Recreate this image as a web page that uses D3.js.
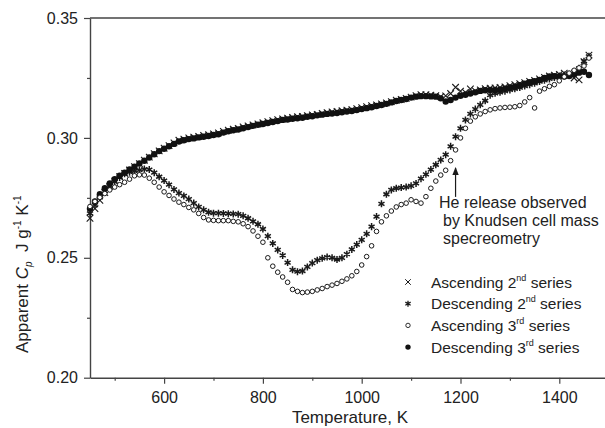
<!DOCTYPE html>
<html>
<head>
<meta charset="utf-8">
<script src="https://cdn.jsdelivr.net/npm/d3@7"></script>
<style>
  body { margin: 0; background: #fff; }
  svg { display: block; font-family: "Liberation Sans", Arial, sans-serif; }
</style>
</head>
<body>
<svg width="605" height="428"></svg>
<script>
"use strict";

// temperature grid, K
var temperature = [
  450, 460, 470, 480, 490, 500, 510, 520, 530, 540, 550, 560, 570, 580, 590,
  600, 610, 620, 630, 640, 650, 660, 670, 680, 690, 700, 710, 720, 730, 740,
  750, 760, 770, 780, 790, 800, 810, 820, 830, 840, 850, 860, 870, 880, 890,
  900, 910, 920, 930, 940, 950, 960, 970, 980, 990, 1000, 1010, 1020, 1030, 1040,
  1050, 1060, 1070, 1080, 1090, 1100, 1110, 1120, 1130, 1140, 1150, 1160, 1170, 1180, 1190,
  1200, 1210, 1220, 1230, 1240, 1250, 1260, 1270, 1280, 1290, 1300, 1310, 1320, 1330, 1340,
  1350, 1360, 1370, 1380, 1390, 1400, 1410, 1420, 1430, 1440, 1450, 1460
];

var ascending2 = [
  0.2665, 0.2705, 0.2740, 0.2772, 0.2798, 0.2820, 0.2838, 0.2852, 0.2866, 0.2880, 0.2893, 0.2907, 0.2920, 0.2934, 0.2946,
  0.2957, 0.2968, 0.2979, 0.2990, 0.2995, 0.3000, 0.3003, 0.3006, 0.3010, 0.3013, 0.3017, 0.3021, 0.3027, 0.3032, 0.3036,
  0.3040, 0.3046, 0.3050, 0.3054, 0.3058, 0.3063, 0.3068, 0.3072, 0.3076, 0.3079, 0.3082, 0.3085, 0.3088, 0.3090, 0.3093,
  0.3096, 0.3098, 0.3102, 0.3105, 0.3108, 0.3110, 0.3113, 0.3116, 0.3118, 0.3122, 0.3126, 0.3130, 0.3134, 0.3138, 0.3142,
  0.3146, 0.3151, 0.3157, 0.3160, 0.3165, 0.3170, 0.3176, 0.3180, 0.3180, 0.3178, 0.3176, 0.3172, 0.3175, 0.3185, 0.3211,
  0.3195, 0.3190, 0.3204, 0.3196, 0.3200, 0.3205, 0.3207, 0.3208, 0.3210, 0.3213, 0.3218, 0.3222, 0.3226, 0.3230, 0.3236,
  0.3240, 0.3246, 0.3252, 0.3258, 0.3262, 0.3265, 0.3270, 0.3262, 0.3250, 0.3242, 0.3318, 0.3345
];

var descending2 = [
  0.2685, 0.2720, 0.2752, 0.2778, 0.2800, 0.2818, 0.2835, 0.2850, 0.2857, 0.2862, 0.2866, 0.2870, 0.2868, 0.2855, 0.2838,
  0.2822, 0.2805, 0.2785, 0.2770, 0.2758, 0.2745, 0.2728, 0.2712, 0.2700, 0.2690, 0.2686, 0.2686, 0.2685, 0.2684, 0.2683,
  0.2682, 0.2675, 0.2665, 0.2652, 0.2640, 0.2620, 0.2590, 0.2560, 0.2533, 0.2510, 0.2480, 0.2450, 0.2442, 0.2445, 0.2462,
  0.2478, 0.2490, 0.2498, 0.2503, 0.2500, 0.2493, 0.2500, 0.2515, 0.2535, 0.2555, 0.2575, 0.2600, 0.2630, 0.2672, 0.2725,
  0.2765, 0.2783, 0.2790, 0.2793, 0.2795, 0.2800, 0.2810, 0.2830, 0.2848, 0.2868, 0.2888, 0.2908, 0.2930, 0.2965, 0.3005,
  0.3040, 0.3075, 0.3100, 0.3120, 0.3138, 0.3155, 0.3178, 0.3186, 0.3190, 0.3195, 0.3200, 0.3205, 0.3210, 0.3216, 0.3222,
  0.3228, 0.3235, 0.3240, 0.3246, 0.3252, 0.3258, 0.3262, 0.3265, 0.3275, 0.3290, 0.3320, 0.3340
];

var ascending3 = [
  0.2714, 0.2735, 0.2752, 0.2768, 0.2783, 0.2795, 0.2805, 0.2815, 0.2828, 0.2842, 0.2846, 0.2845, 0.2832, 0.2815, 0.2795,
  0.2775, 0.2760, 0.2745, 0.2732, 0.2722, 0.2710, 0.2700, 0.2685, 0.2668, 0.2658, 0.2656, 0.2655, 0.2655, 0.2655, 0.2652,
  0.2650, 0.2642, 0.2630, 0.2612, 0.2590, 0.2565, 0.2500, 0.2465, 0.2440, 0.2420, 0.2398, 0.2368, 0.2360, 0.2355, 0.2357,
  0.2360, 0.2366, 0.2372, 0.2380, 0.2386, 0.2393, 0.2402, 0.2412, 0.2425, 0.2443, 0.2470, 0.2505, 0.2550, 0.2610, 0.2650,
  0.2675, 0.2695, 0.2712, 0.2722, 0.2728, 0.2742, 0.2735, 0.2728, 0.2755, 0.2790, 0.2820, 0.2845, 0.2865, 0.2905, 0.2950,
  0.3000, 0.3040, 0.3070, 0.3088, 0.3100, 0.3110, 0.3117, 0.3122, 0.3125, 0.3127, 0.3128, 0.3130, 0.3135, 0.3150, 0.3168,
  0.3125, 0.3195, 0.3205, 0.3215, 0.3222, 0.3238, 0.3255, 0.3270, 0.3282, 0.3292, 0.3300, 0.3333
];

var descending3 = [
  0.2705, 0.2735, 0.2765, 0.2790, 0.2810, 0.2828, 0.2842, 0.2855, 0.2868, 0.2880, 0.2893, 0.2905, 0.2918, 0.2932, 0.2945,
  0.2955, 0.2965, 0.2975, 0.2985, 0.2990, 0.2995, 0.2998, 0.3002, 0.3005, 0.3008, 0.3012, 0.3015, 0.3022, 0.3028, 0.3032,
  0.3035, 0.3040, 0.3045, 0.3050, 0.3055, 0.3058, 0.3062, 0.3066, 0.3070, 0.3075, 0.3077, 0.3080, 0.3082, 0.3084, 0.3088,
  0.3090, 0.3094, 0.3097, 0.3100, 0.3102, 0.3104, 0.3107, 0.3110, 0.3112, 0.3116, 0.3120, 0.3124, 0.3128, 0.3133, 0.3137,
  0.3142, 0.3148, 0.3154, 0.3158, 0.3162, 0.3168, 0.3172, 0.3174, 0.3174, 0.3173, 0.3172, 0.3165, 0.3152, 0.3158, 0.3168,
  0.3176, 0.3180, 0.3185, 0.3190, 0.3196, 0.3199, 0.3200, 0.3200, 0.3201, 0.3205, 0.3210, 0.3214, 0.3220, 0.3226, 0.3232,
  0.3236, 0.3242, 0.3250, 0.3256, 0.3257, 0.3256, 0.3256, 0.3258, 0.3265, 0.3272, 0.3276, 0.3262
];

var xTicks = [600, 800, 1000, 1200, 1400];
var xMinorTicks = [500, 700, 900, 1100, 1300, 1500];
var yTicks = [0.20, 0.25, 0.30, 0.35];
var yMinorTicks = [0.225, 0.275, 0.325];

var legendNames = [["Ascending 2", "nd"], ["Descending 2", "nd"], ["Ascending 3", "rd"], ["Descending 3", "rd"]];
var noteLines = ["He release observed", "by Knudsen cell mass", "specreometry"];
var arrowAt = [1190, 0.2754, 0.2875];   // temperature, tail, head

function drawChart(){

  var svg = d3.select("svg");
  var ink = "#1a1a1a";

  var xScale = d3.scaleLinear().domain([450, 1500]).range([90, 608.7]);
  var yScale = d3.scaleLinear().domain([0.20, 0.35]).range([377.7, 18]);

  // axes
  svg.append("g")
    .attr("transform", "translate(0," + yScale(0.20) + ")")
    .call(d3.axisBottom(xScale).tickValues(xTicks).tickSize(6).tickSizeOuter(0).tickPadding(8).tickFormat(d3.format("d")));
  svg.append("g")
    .attr("transform", "translate(0," + yScale(0.20) + ")")
    .call(d3.axisBottom(xScale).tickValues(xMinorTicks).tickSize(3).tickFormat(""))
    .select(".domain").remove();

  svg.append("g")
    .attr("transform", "translate(" + xScale(450) + ",0)")
    .call(d3.axisLeft(yScale).tickValues(yTicks).tickSize(6).tickSizeOuter(0).tickPadding(6).tickFormat(d3.format(".2f")));
  svg.append("g")
    .attr("transform", "translate(" + xScale(450) + ",0)")
    .call(d3.axisLeft(yScale).tickValues(yMinorTicks).tickSize(3).tickFormat(""))
    .select(".domain").remove();

  svg.selectAll(".domain").attr("stroke", "#444").attr("stroke-width", 1.4);
  svg.selectAll(".tick line").attr("stroke", "#444").attr("stroke-width", 1.2);
  svg.selectAll(".tick text").attr("fill", "#222").style("font-size", "16px");

  // top frame line
  svg.append("line")
    .attr("x1", xScale(450)).attr("x2", 605)
    .attr("y1", yScale(0.35)).attr("y2", yScale(0.35))
    .attr("stroke", "#444").attr("stroke-width", 1.4);

  // axis titles
  svg.append("text")
    .attr("x", 350).attr("y", 423)
    .attr("text-anchor", "middle")
    .attr("fill", "#222")
    .style("font-size", "17px")
    .text("Temperature, K");

  var yTitle = svg.append("text")
    .attr("transform", "translate(28,353) rotate(-90)")
    .attr("fill", "#222")
    .style("font-size", "17px");
  yTitle.append("tspan").text("Apparent ");
  yTitle.append("tspan").style("font-style", "italic").text("C");
  yTitle.append("tspan").style("font-style", "italic").style("font-size", "10px").attr("dy", 4).text("p");
  yTitle.append("tspan").attr("dy", -4).text("\u00a0\u00a0J g");
  yTitle.append("tspan").style("font-size", "10px").attr("dy", -7).text("-1");
  yTitle.append("tspan").attr("dy", 7).text(" K");
  yTitle.append("tspan").style("font-size", "10px").attr("dy", -7).text("-1");

  var rows = temperature.map(function(t, i){
    return {t: t, a2: ascending2[i], d2: descending2[i], a3: ascending3[i], d3: descending3[i]};
  });

  var timesSym = d3.symbol().type(d3.symbolTimes).size(30);
  var starSym = d3.symbol().type(d3.symbolAsterisk).size(34);

  // ascending 2nd: crosses
  svg.append("g").selectAll("path")
    .data(rows).enter().append("path")
    .attr("d", timesSym)
    .attr("transform", function(d){ return "translate(" + xScale(d.t) + "," + yScale(d.a2) + ")"; })
    .attr("fill", "none").attr("stroke", ink).attr("stroke-width", 1.1);

  // descending 2nd: asterisks
  svg.append("g").selectAll("path")
    .data(rows).enter().append("path")
    .attr("d", starSym)
    .attr("transform", function(d){ return "translate(" + xScale(d.t) + "," + yScale(d.d2) + ")"; })
    .attr("fill", "none").attr("stroke", ink).attr("stroke-width", 1.5);

  // descending 3rd: filled dots
  svg.append("g").selectAll("circle")
    .data(rows).enter().append("circle")
    .attr("cx", function(d){ return xScale(d.t); })
    .attr("cy", function(d){ return yScale(d.d3); })
    .attr("r", 3.2)
    .attr("fill", "#111");

  // ascending 3rd: open circles
  svg.append("g").selectAll("circle")
    .data(rows).enter().append("circle")
    .attr("cx", function(d){ return xScale(d.t); })
    .attr("cy", function(d){ return yScale(d.a3); })
    .attr("r", 2.3)
    .attr("fill", "#fff").attr("stroke", ink).attr("stroke-width", 1);

  // annotation + arrow
  svg.append("defs").append("marker")
    .attr("id", "head")
    .attr("viewBox", "0 0 10 10")
    .attr("refX", 9).attr("refY", 5)
    .attr("markerWidth", 7).attr("markerHeight", 7)
    .attr("orient", "auto")
    .append("path").attr("d", "M0,1L10,5L0,9Z").attr("fill", ink);

  svg.append("line")
    .attr("x1", xScale(arrowAt[0])).attr("x2", xScale(arrowAt[0]))
    .attr("y1", yScale(arrowAt[1])).attr("y2", yScale(arrowAt[2]))
    .attr("stroke", ink).attr("stroke-width", 1.2)
    .attr("marker-end", "url(#head)");

  svg.append("g").selectAll("text")
    .data(noteLines).enter().append("text")
    .attr("x", function(d, i){ return i === 0 ? 439 : 443; })
    .attr("y", function(d, i){ return 208 + i * 18; })
    .attr("fill", "#222")
    .style("font-size", "16px")
    .text(function(d){ return d; });

  // legend
  var legend = svg.append("g");
  legendNames.forEach(function(name, i){
    var y = 282 + i * 21.7;
    var mark = legend.append("g").attr("transform", "translate(408," + y + ")");
    if (i === 0) mark.append("path").attr("d", d3.symbol().type(d3.symbolTimes).size(22)).attr("fill", "none").attr("stroke", ink);
    if (i === 1) mark.append("path").attr("d", d3.symbol().type(d3.symbolAsterisk).size(26)).attr("fill", "none").attr("stroke", ink).attr("stroke-width", 1.3);
    if (i === 2) mark.append("circle").attr("r", 2.2).attr("fill", "#fff").attr("stroke", ink).attr("stroke-width", 0.9);
    if (i === 3) mark.append("circle").attr("r", 2.7).attr("fill", "#111");

    var label = legend.append("text")
      .attr("x", 431).attr("y", y + 5.5)
      .attr("fill", "#222")
      .style("font-size", "15.5px");
    label.append("tspan").text(name[0]);
    label.append("tspan").style("font-size", "9px").attr("dy", -7).text(name[1]);
    label.append("tspan").attr("dy", 7).text(" series");
  });
}

drawChart();
</script>
</body>
</html>
